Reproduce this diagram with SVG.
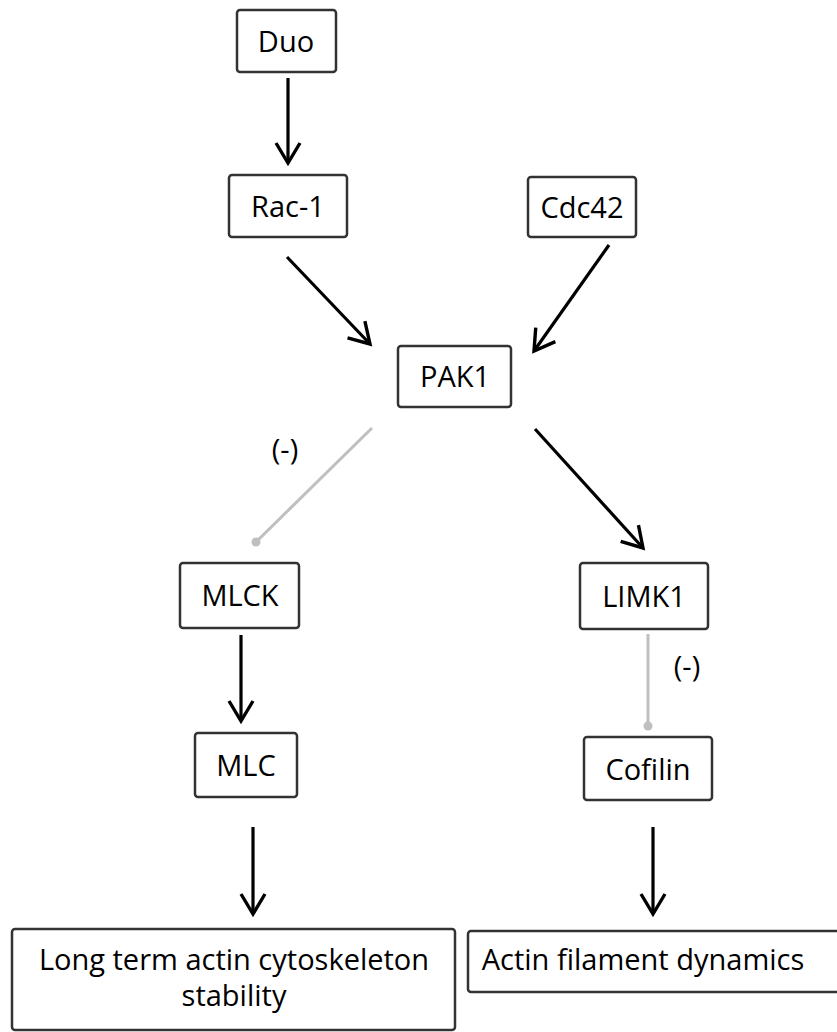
<svg xmlns="http://www.w3.org/2000/svg" width="837" height="1032" viewBox="0 0 837 1032">
<style>
.box{fill:#fff;stroke:#333;stroke-width:2.5}
.t{font-family:"Open Sans",Lato,"Liberation Sans",sans-serif;font-size:29px;fill:#000;text-anchor:middle}
.a{stroke:#000;stroke-width:3.2;fill:none;marker-end:url(#ah)}
.inh{stroke:#bfbfbf;stroke-width:3;fill:none}
</style>
<defs>
<marker id="ah" markerUnits="userSpaceOnUse" viewBox="-22 -14 26 28" refX="0" refY="0" markerWidth="26" markerHeight="28" orient="auto">
<path d="M-20,-12 L0,0 L-20,12" fill="none" stroke="#000" stroke-width="3.4" stroke-linejoin="miter"/>
</marker>
</defs>
<rect width="837" height="1032" fill="#fff"/>
<g id="connectors">
<line class="a" x1="288" y1="78" x2="288" y2="163"/>
<line class="a" x1="287" y1="257" x2="370" y2="344"/>
<line class="a" x1="609" y1="245" x2="534" y2="351"/>
<line class="a" x1="535" y1="429" x2="643" y2="548"/>
<line class="inh" x1="372" y1="428" x2="256" y2="542"/>
<circle cx="256" cy="542" r="4.5" fill="#bfbfbf"/>
<line class="a" x1="241" y1="635" x2="241" y2="721"/>
<line class="inh" x1="648" y1="634" x2="648" y2="726"/>
<circle cx="648" cy="726" r="4.5" fill="#bfbfbf"/>
<line class="a" x1="253" y1="827" x2="253" y2="914"/>
<line class="a" x1="653" y1="827" x2="653" y2="914"/>
<text class="t" x="285" y="460">(-)</text>
<text class="t" x="687" y="677">(-)</text>
</g>
<g id="duo"><rect class="box" x="237" y="10" width="99" height="62" rx="3"/><text class="t" x="286" y="52">Duo</text></g>
<g id="rac1"><rect class="box" x="229" y="175" width="118" height="62" rx="3"/><text class="t" x="288" y="217">Rac-1</text></g>
<g id="cdc42"><rect class="box" x="528" y="177" width="108" height="60" rx="3"/><text class="t" x="582" y="218">Cdc42</text></g>
<g id="pak1"><rect class="box" x="398" y="346" width="113" height="61" rx="3"/><text class="t" x="455" y="387">PAK1</text></g>
<g id="mlck"><rect class="box" x="180" y="563" width="119" height="65" rx="3"/><text class="t" x="240" y="606">MLCK</text></g>
<g id="limk1"><rect class="box" x="580" y="563" width="128" height="66" rx="3"/><text class="t" x="644" y="607">LIMK1</text></g>
<g id="mlc"><rect class="box" x="195" y="733" width="102" height="64" rx="3"/><text class="t" x="246" y="776">MLC</text></g>
<g id="cofilin"><rect class="box" x="584" y="737" width="128" height="63" rx="3"/><text class="t" x="648" y="780">Cofilin</text></g>
<g id="longterm"><rect class="box" x="12" y="929" width="443" height="101" rx="3"/><text class="t" x="234" y="970">Long term actin cytoskeleton</text><text class="t" x="234" y="1006">stability</text></g>
<g id="actin"><rect class="box" x="468" y="931" width="372" height="61" rx="3"/><text class="t" x="643" y="970">Actin filament dynamics</text></g>
</svg>
